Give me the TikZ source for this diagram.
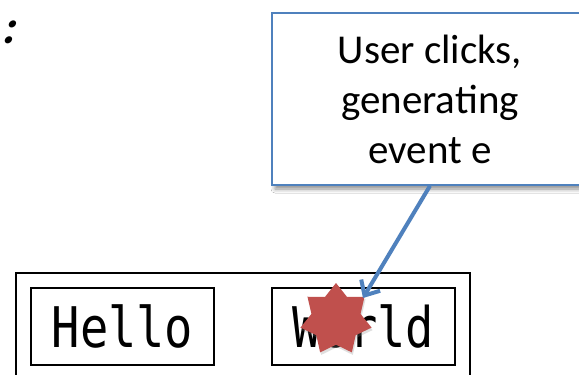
\documentclass[tikz,border=0pt]{standalone}
\usepackage{fontspec}
\setmainfont{Carlito}
\newfontfamily\codefont[FakeStretch=0.84]{DejaVu Sans Mono}
\newfontfamily\slantfont[FakeSlant=0.25]{Carlito Bold}
\usetikzlibrary{arrows.meta,shapes.geometric,shadows,shadows.blur}
\definecolor{noteblue}{HTML}{4F81BD}
\definecolor{clickred}{HTML}{C0504D}
\tikzset{
  widget/.style={draw=black, line width=1.8pt, inner sep=0pt},
  label text/.style={font=\codefont\fontsize{56}{64}\selectfont},
  note/.style={draw=noteblue, line width=1.6pt, fill=white, align=center, inner sep=0pt,
    font=\fontsize{41}{50}\selectfont,
    blur shadow={shadow xshift=3pt, shadow yshift=-4pt, shadow blur radius=4pt, shadow opacity=45}},
  burst/.style={star, star points=7, star point ratio=1.45, minimum size=73pt, inner sep=0pt,
    fill=clickred, draw=none,
    drop shadow={opacity=0.25, shadow xshift=1pt, shadow yshift=-2.5pt}},
  pointer/.style={draw=noteblue, line width=4pt,
    -{Straight Barb[length=12pt, width=22pt, line width=4pt]}}
}
\begin{document}
\begin{tikzpicture}[x=1pt, y=-1pt]
  \clip (0,0) rectangle (579,375);
  \fill[white] (0,0) rectangle (579,375);

  % trailing colon of a heading
  \node[anchor=base west, inner sep=0pt, font=\slantfont\fontsize{48}{56}\selectfont] (colon) at (1,43) {:};

  % window frame and its two labels
  \node[widget, minimum width=454pt, minimum height=140pt] (frame) at (243,343) {};
  \node[widget, minimum width=183pt, minimum height=77pt, label text] (hello) at (122.5,326.5) {Hello};
  \node[widget, minimum width=183pt, minimum height=77pt, label text] (world) at (363.5,326.5) {World};

  % the click
  \node[burst] (click) at (336,319.5) {};

  % callout describing the event
  \node[note, minimum width=316pt, minimum height=172pt] (note) at (430,99) {User clicks,\\generating\\event e};

  \coordinate (hit) at (363,298);
  \draw[pointer] (note.south) -- (hit);
\end{tikzpicture}
\end{document}
